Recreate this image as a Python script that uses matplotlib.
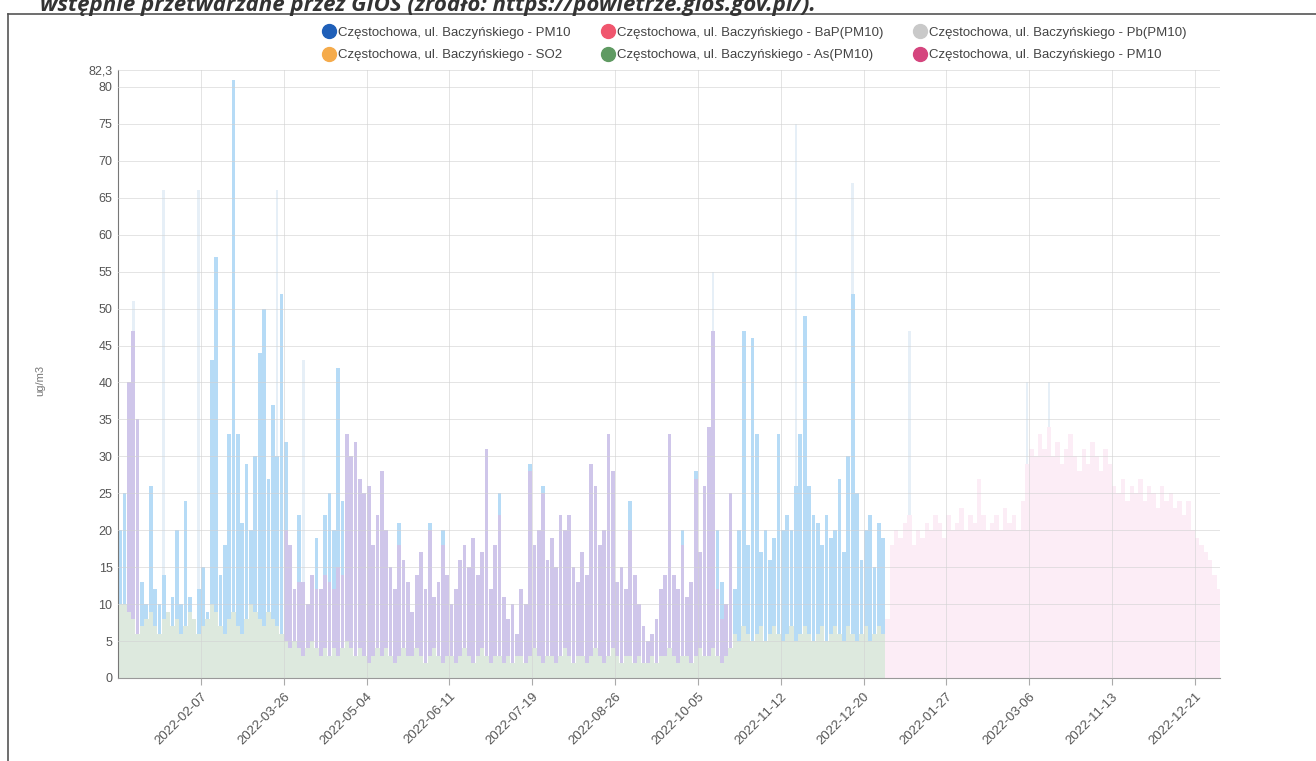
import numpy as np
import matplotlib.pyplot as plt
from matplotlib.lines import Line2D

plt.rcParams['font.family'] = ['Liberation Sans', 'DejaVu Sans']

# categories on the x axis (one label every 19 bins of 2 days)
tick_dates = ['2022-02-07', '2022-03-26', '2022-05-04', '2022-06-11', '2022-07-19',
              '2022-08-26', '2022-10-05', '2022-11-12', '2022-12-20', '2022-01-27',
              '2022-03-06', '2022-11-13', '2022-12-21']

series_names = ['Częstochowa, ul. Baczyńskiego - PM10',
                'Częstochowa, ul. Baczyńskiego - SO2',
                'Częstochowa, ul. Baczyńskiego - BaP(PM10)',
                'Częstochowa, ul. Baczyńskiego - As(PM10)',
                'Częstochowa, ul. Baczyńskiego - Pb(PM10)',
                'Częstochowa, ul. Baczyńskiego - PM10']
legend_colors = ['#1f5fb8', '#f5ab4b', '#f0566e', '#5f9a62', '#c9c9c9', '#d5457e']

# first block (blue PM10), ug/m3
pm10_blue = [20, 25, 38, 45, 30, 13, 10, 26, 12, 10,
             14, 9, 11, 20, 10, 24, 11, 8, 12, 15,
             9, 43, 57, 14, 18, 33, 81, 33, 21, 29,
             20, 30, 44, 50, 27, 37, 30, 52, 32, 18,
             12, 22, 13, 10, 14, 19, 12, 22, 25, 20,
             42, 24, 33, 30, 32, 27, 25, 26, 18, 22,
             28, 20, 15, 12, 21, 16, 13, 9, 14, 17,
             12, 21, 11, 13, 20, 14, 10, 12, 16, 18,
             15, 19, 14, 17, 31, 12, 18, 25, 11, 8,
             10, 6, 12, 10, 29, 18, 20, 26, 16, 19,
             15, 22, 20, 22, 15, 13, 17, 14, 29, 26,
             18, 20, 33, 28, 13, 15, 12, 24, 14, 10,
             7, 5, 6, 8, 12, 14, 33, 14, 12, 20,
             11, 13, 28, 17, 26, 34, 47, 20, 13, 10,
             25, 12, 20, 47, 18, 46, 33, 17, 20, 16,
             19, 33, 20, 22, 20, 26, 33, 49, 26, 22,
             21, 18, 22, 19, 20, 27, 17, 30, 52, 25,
             16, 20, 22, 15, 21, 19]

# first block, second PM10 series (seen as violet where it overlaps)
pm10_violet = [0, 0, 40, 47, 35, 0, 0, 0, 0, 0,
               0, 0, 0, 0, 0, 0, 0, 0, 0, 0,
               0, 0, 0, 0, 0, 0, 0, 0, 0, 0,
               0, 0, 0, 0, 0, 0, 0, 0, 20, 18,
               12, 13, 13, 10, 14, 12, 12, 14, 13, 12,
               15, 14, 33, 30, 32, 27, 25, 26, 18, 22,
               28, 20, 15, 12, 18, 16, 13, 9, 14, 17,
               12, 20, 11, 13, 18, 14, 10, 12, 16, 18,
               15, 19, 14, 17, 31, 12, 18, 22, 11, 8,
               10, 6, 12, 10, 28, 18, 20, 25, 16, 19,
               15, 22, 20, 22, 15, 13, 17, 14, 29, 26,
               18, 20, 33, 28, 13, 15, 12, 20, 14, 10,
               7, 5, 6, 8, 12, 14, 33, 14, 12, 18,
               11, 13, 27, 17, 26, 34, 47, 12, 8, 10,
               25, 0, 0, 0, 0, 0, 0, 0, 0, 0,
               0, 0, 0, 0, 0, 0, 0, 0, 0, 0,
               0, 0, 0, 0, 0, 0, 0, 0, 0, 0,
               0, 0, 0, 0, 0, 0]

as_pm10 = [10, 10, 9, 8, 6, 7, 8, 9, 7, 6,
           8, 9, 7, 8, 6, 7, 9, 8, 6, 7,
           8, 10, 9, 7, 6, 8, 9, 7, 6, 8,
           10, 9, 8, 7, 9, 8, 7, 6, 5, 4,
           5, 4, 3, 4, 5, 4, 3, 4, 3, 4,
           3, 4, 5, 4, 3, 4, 3, 2, 3, 4,
           3, 4, 3, 2, 3, 4, 3, 3, 4, 3,
           2, 3, 4, 3, 2, 3, 3, 2, 3, 4,
           3, 2, 3, 4, 3, 2, 3, 3, 2, 3,
           2, 3, 3, 2, 3, 4, 3, 2, 3, 3,
           2, 3, 4, 3, 2, 3, 3, 2, 3, 4,
           3, 2, 3, 4, 3, 2, 3, 3, 2, 3,
           2, 2, 3, 2, 3, 3, 4, 3, 2, 3,
           3, 2, 3, 4, 3, 3, 4, 3, 2, 3,
           4, 6, 5, 7, 6, 5, 6, 7, 5, 6,
           7, 6, 5, 6, 7, 5, 6, 7, 6, 5,
           6, 7, 5, 6, 7, 6, 5, 7, 6, 5,
           6, 7, 5, 6, 7, 6]

# second block (pink PM10)
pm10_pink = [8, 18, 20, 19, 21, 22, 18, 20, 19, 21,
             20, 22, 21, 19, 22, 20, 21, 23, 20, 22,
             21, 27, 22, 20, 21, 22, 20, 23, 21, 22,
             20, 24, 29, 31, 30, 33, 31, 34, 30, 32,
             29, 31, 33, 30, 28, 31, 29, 32, 30, 28,
             31, 29, 26, 25, 27, 24, 26, 25, 27, 24,
             26, 25, 23, 26, 24, 25, 23, 24, 22, 24,
             20, 19, 18, 17, 16, 14, 12]

# very pale single peaks (Pb series, barely visible)
pale_bins = [3, 10, 18, 36, 42, 136, 155, 168, 181, 208, 213]
pale_vals = [51, 66, 66, 66, 43, 55, 75, 67, 47, 40, 40]

fig = plt.figure(figsize=(13.16, 7.61), dpi=100)
ax = fig.add_axes([118 / 1316, 1 - 678 / 761, 1102 / 1316, 608 / 761])

x1 = np.arange(len(pm10_blue)) + 0.5
x2 = len(pm10_blue) + np.arange(len(pm10_pink)) + 0.5

ax.bar(np.array(pale_bins) + 0.5, pale_vals, width=0.6, color='#e6eff7', linewidth=0)
ax.bar(x1, pm10_blue, width=0.85, color='#b6dbf6', linewidth=0)
ax.bar(x1, pm10_violet, width=0.85, color='#cfc6ea', linewidth=0)
ax.bar(x1, as_pm10, width=1.0, color='#dde9de', linewidth=0)
ax.bar(x2, pm10_pink, width=1.0, color='#fcedf6', linewidth=0)

ymax = 82.3
yt = list(range(0, 81, 5)) + [ymax]
ax.set_ylim(0, ymax)
ax.set_yticks(yt)
ax.set_yticklabels([str(v) for v in range(0, 81, 5)] + ['82,3'], fontsize=9, color='#555')

n_total = len(pm10_blue) + len(pm10_pink)
ax.set_xlim(0, n_total - 0.25)
tick_pos = [19 * (i + 1) for i in range(len(tick_dates))]
ax.set_xticks(tick_pos)
ax.set_xticklabels(tick_dates, rotation=45, ha='right', rotation_mode='anchor',
                   fontsize=9.5, color='#555')

ax.grid(True, color='#d2d2d2', lw=0.7, alpha=0.6)
ax.set_axisbelow(False)
ax.tick_params(axis='y', length=0, pad=4)
ax.tick_params(axis='x', length=5, color='#aaa', pad=4)
for s in ['top', 'right']:
    ax.spines[s].set_visible(False)
ax.spines['left'].set_color('#777')
ax.spines['bottom'].set_color('#999')

fig.text(40 / 1316, 1 - 380 / 761, 'ug/m3', rotation=90, va='center', ha='center',
         fontsize=8, color='#777')

handles = [Line2D([], [], marker='o', ls='', markersize=10, color=c) for c in legend_colors]
fig.legend(handles, series_names, ncol=3, loc='center', bbox_to_anchor=(755 / 1316, 1 - 44 / 761),
           frameon=False, fontsize=9.5, handletextpad=0.25, columnspacing=2.35,
           labelspacing=0.75, handlelength=0.9, labelcolor='#444')

fig.text(40 / 1316, 1 - 11 / 761,
         'wstępnie przetwarzane przez GIOŚ (źródło: https://powietrze.gios.gov.pl/).',
         fontsize=16, style='italic', weight='bold', color='#333', va='baseline',
         family=['Open Sans', 'DejaVu Sans'])

# frame of the scanned page
fig.add_artist(Line2D([8 / 1316, 1], [1 - 14 / 761, 1 - 14 / 761], transform=fig.transFigure,
                      color='#555', lw=1.2))
fig.add_artist(Line2D([8 / 1316, 8 / 1316], [0, 1 - 14 / 761], transform=fig.transFigure,
                      color='#555', lw=1.2))

fig.savefig('out.png', dpi=100)
